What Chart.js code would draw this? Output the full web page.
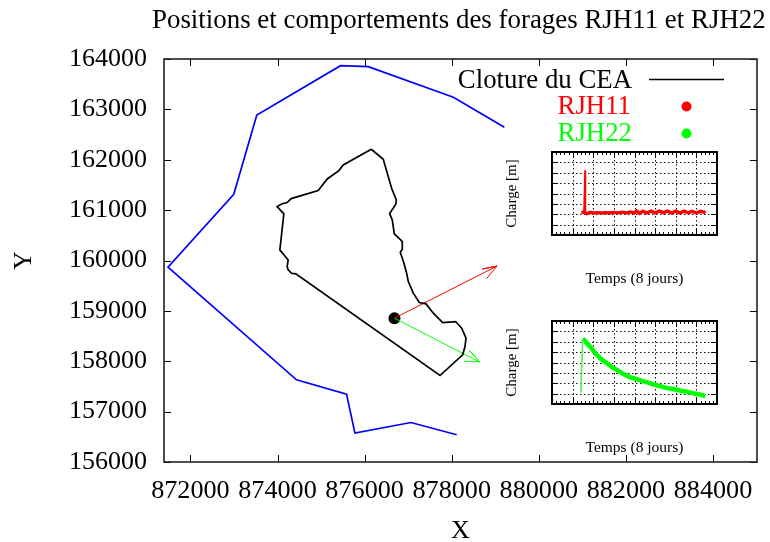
<!DOCTYPE html>
<html>
<head>
<meta charset="utf-8">
<title>Positions et comportements des forages</title>
<script src="https://cdn.jsdelivr.net/npm/chart.js@4/dist/chart.umd.min.js"></script>
<style>
    html, body { margin: 0; padding: 0; background: #fff; }
    #wrap { position: relative; width: 770px; height: 542px; overflow: hidden; }
    #wrap div { position: absolute; }
    #mainBox { left: 0; top: 0; width: 770px; height: 542px; }
    #inset1Box { left: 495px; top: 140px; width: 235px; height: 150px; }
    #inset2Box { left: 495px; top: 309px; width: 235px; height: 150px; }
</style>
</head>
<body>
<div id="wrap">
    <div id="mainBox"><canvas id="mainChart"></canvas></div>
    <div id="inset1Box"><canvas id="inset1Chart"></canvas></div>
    <div id="inset2Box"><canvas id="inset2Chart"></canvas></div>
</div>
<script>
// --- Data ---
const xTicks = [872000, 874000, 876000, 878000, 880000, 882000, 884000];
const yTicks = [156000, 157000, 158000, 159000, 160000, 161000, 162000, 163000, 164000];

const riverX = [879209, 878037, 876083, 875447, 873524, 872995, 871485, 874436, 875585, 875777, 877064, 878114];
const riverY = [162645, 163240, 163848, 163868, 162889, 161315, 159866, 157631, 157347, 156573, 156784, 156540];

const fenceX = [876152, 876428, 876466, 876620, 876727, 876719, 876574, 876635, 876681, 876827, 876865, 876865, 876819, 876903, 876965, 877003, 877118, 877256, 877409, 877578, 877792, 878091, 878229, 878328, 878305, 878252, 877731, 874420, 874321, 874244, 874221, 874244, 874259, 874053, 874145, 873991, 874091, 874221, 874313, 874934, 875141, 875409, 875508, 876152];
const fenceY = [162208, 162010, 161897, 161434, 161203, 161123, 160932, 160806, 160528, 160409, 160376, 160230, 160164, 159946, 159747, 159582, 159351, 159165, 159139, 158954, 158769, 158788, 158656, 158458, 158292, 158127, 157717, 159734, 159747, 159814, 159880, 160012, 160012, 160211, 160925, 161070, 161123, 161150, 161229, 161388, 161619, 161785, 161897, 162208];

const wellX = [876685];
const wellY = [158855];

// arrows: start, tip, barb, tip, barb
const redArrowX = [876685, 879040, 878700, 879040, 878800];
const redArrowY = [158855, 159890, 159830, 159890, 159640];
const greenArrowX = [876685, 878640, 878400, 878640, 878280];
const greenArrowY = [158855, 157985, 158220, 157985, 158000];

// insets: time in days, charge in grid divisions
const rjh11SpikeT = [1.55, 1.6, 1.62];
const rjh11SpikeQ = [2.15, 6.25, 2.15];
const rjh11T = [1.42, 1.55, 1.7, 1.85, 2.0, 2.2, 2.4, 2.6, 2.8, 3.0, 3.2, 3.4, 3.6, 3.8, 4.0, 4.1, 4.25, 4.4, 4.6, 4.8, 5.0, 5.2, 5.4, 5.6, 5.8, 6.0, 6.2, 6.4, 6.6, 6.8, 7.0, 7.2, 7.45];
const rjh11Q = [2.18, 2.2, 2.05, 2.18, 2.12, 2.16, 2.12, 2.16, 2.12, 2.18, 2.13, 2.2, 2.12, 2.22, 2.14, 2.32, 2.08, 2.3, 2.12, 2.3, 2.14, 2.3, 2.16, 2.3, 2.12, 2.3, 2.12, 2.3, 2.14, 2.28, 2.12, 2.28, 2.16];
const rjh22RiseT = [1.4, 1.43, 1.4, 1.49];
const rjh22RiseQ = [1.1, 1.55, 1.3, 6.25];
const rjh22T = [1.49, 1.65, 1.86, 2.02, 2.18, 2.4, 2.67, 2.9, 3.15, 3.4, 3.63, 3.9, 4.12, 4.35, 4.6, 4.85, 5.09, 5.33, 5.57, 5.8, 6.06, 6.3, 6.54, 6.8, 7.03, 7.25, 7.43];
const rjh22Q = [6.3, 5.95, 5.5, 5.1, 4.72, 4.3, 3.92, 3.55, 3.28, 2.96, 2.72, 2.5, 2.4, 2.22, 2.1, 1.95, 1.78, 1.68, 1.53, 1.47, 1.37, 1.25, 1.18, 1.05, 0.96, 0.88, 0.76];

const dayTicks = [0, 1, 2, 3, 4, 5, 6, 7, 8];
const dayMinorTicks = [0.2, 0.4, 0.6, 0.8];

const serif = '"Liberation Serif", "Times New Roman", serif';
const xy = (xs, ys) => xs.map((x, i) => ({ x: x, y: ys[i] }));

// gnuplot style inward ticks on all four sides + frame + dotted grid
const frameTicks = {
    id: 'frameTicks',
    beforeDatasetsDraw(chart, args, opts) {
        if (!opts.dotted) return;
        const { ctx, chartArea: a, scales: { x, y } } = chart;
        ctx.save();
        ctx.strokeStyle = '#111';
        ctx.lineWidth = 1;
        ctx.setLineDash([1.5, 2.5]);
        ctx.beginPath();
        x.ticks.forEach(t => {
            const px = Math.round(x.getPixelForValue(t.value)) + 0.5;
            ctx.moveTo(px, a.top); ctx.lineTo(px, a.bottom);
        });
        y.ticks.forEach(t => {
            const py = Math.round(y.getPixelForValue(t.value)) + 0.5;
            ctx.moveTo(a.left, py); ctx.lineTo(a.right, py);
        });
        ctx.stroke();
        ctx.restore();
    },
    afterDatasetsDraw(chart, args, opts) {
        const { ctx, chartArea: a, scales: { x, y } } = chart;
        ctx.save();
        ctx.strokeStyle = '#000';
        ctx.lineWidth = opts.tickWidth;
        ctx.beginPath();
        x.ticks.forEach(t => {
            const px = Math.round(x.getPixelForValue(t.value)) + 0.5;
            ctx.moveTo(px, a.bottom); ctx.lineTo(px, a.bottom - opts.tick);
            ctx.moveTo(px, a.top); ctx.lineTo(px, a.top + opts.tick);
            (opts.minor || []).forEach(m => {
                if (t.value + m > x.max) return;
                const mx = Math.round(x.getPixelForValue(t.value + m)) + 0.5;
                ctx.moveTo(mx, a.bottom); ctx.lineTo(mx, a.bottom - opts.minorTick);
                ctx.moveTo(mx, a.top); ctx.lineTo(mx, a.top + opts.minorTick);
            });
        });
        y.ticks.forEach(t => {
            const py = Math.round(y.getPixelForValue(t.value)) + 0.5;
            ctx.moveTo(a.left, py); ctx.lineTo(a.left + opts.tick, py);
            ctx.moveTo(a.right, py); ctx.lineTo(a.right - opts.tick, py);
        });
        ctx.stroke();
        ctx.lineWidth = opts.frameWidth;
        ctx.strokeStyle = opts.frameColor;
        ctx.strokeRect(a.left, a.top, a.right - a.left, a.bottom - a.top);
        ctx.restore();
    }
};

// title and the right-aligned gnuplot key
const keyAndTitle = {
    id: 'keyAndTitle',
    afterDraw(chart) {
        const ctx = chart.ctx;
        ctx.save();
        ctx.textBaseline = 'alphabetic';
        ctx.font = '26.9px ' + serif;
        ctx.fillStyle = '#000';
        ctx.textAlign = 'left';
        ctx.fillText('Positions et comportements des forages RJH11 et RJH22', 152, 28);
        ctx.textBaseline = 'middle';
        ctx.font = '26.8px ' + serif;
        ctx.textAlign = 'right';
        ctx.fillText('Cloture du CEA', 632, 81);
        ctx.fillStyle = '#ff0000';
        ctx.fillText('RJH11', 631, 107);
        ctx.fillStyle = '#00ff00';
        ctx.fillText('RJH22', 632, 134);
        ctx.strokeStyle = '#000';
        ctx.lineWidth = 1.7;
        ctx.beginPath();
        ctx.moveTo(649, 79.5);
        ctx.lineTo(724, 79.5);
        ctx.stroke();
        ctx.fillStyle = '#ff0000';
        ctx.beginPath(); ctx.arc(686.5, 106.5, 5, 0, Math.PI * 2); ctx.fill();
        ctx.fillStyle = '#00ff00';
        ctx.beginPath(); ctx.arc(686.5, 133.5, 5, 0, Math.PI * 2); ctx.fill();
        ctx.restore();
    }
};

const lineSet = (xs, ys, color, width) => ({
    data: xy(xs, ys),
    showLine: true,
    borderColor: color,
    borderWidth: width,
    pointRadius: 0,
    tension: 0,
    fill: false
});

new Chart(document.getElementById('mainChart'), {
    type: 'scatter',
    data: {
        datasets: [
            lineSet(riverX, riverY, '#0000ff', 1.7),
            lineSet(fenceX, fenceY, '#000000', 1.7),
            lineSet(redArrowX, redArrowY, '#ff0000', 1),
            lineSet(greenArrowX, greenArrowY, '#00ff00', 1),
            {
                data: xy(wellX, wellY),
                pointRadius: 6,
                pointBackgroundColor: '#000',
                pointBorderColor: '#000',
                pointBorderWidth: 0
            }
        ]
    },
    options: {
        responsive: true,
        maintainAspectRatio: false,
        animation: false,
        layout: { padding: { top: 59, right: 13, left: 0, bottom: 0 } },
        plugins: {
            legend: { display: false },
            tooltip: { enabled: false },
            frameTicks: { tick: 7, tickWidth: 1, frameWidth: 1.6, frameColor: '#222' }
        },
        scales: {
            x: {
                type: 'linear',
                min: 871393,
                max: 885010,
                afterBuildTicks: s => { s.ticks = xTicks.map(v => ({ value: v })); },
                afterFit: s => { s.height = 80; },
                grid: { display: false },
                border: { display: false },
                ticks: {
                    color: '#000',
                    font: { family: serif, size: 26.2 },
                    padding: 5,
                    maxRotation: 0,
                    callback: v => String(v)
                },
                title: { display: true, text: 'X', color: '#000', font: { family: serif, size: 26 }, padding: { top: 0, bottom: -5 } }
            },
            y: {
                type: 'linear',
                min: 156000,
                max: 164000,
                afterBuildTicks: s => { s.ticks = yTicks.map(v => ({ value: v })); },
                afterFit: s => { s.width = 164; },
                grid: { display: false },
                border: { display: false },
                ticks: {
                    color: '#000',
                    font: { family: serif, size: 26 },
                    padding: 9,
                    callback: v => String(v)
                },
                title: { display: true, text: 'Y', color: '#000', font: { family: serif, size: 26 }, padding: { top: 9, bottom: 0 } }
            }
        }
    },
    plugins: [frameTicks, keyAndTitle]
});

const makeInset = (id, thin, thick, color, thinColor, thickWidth) => new Chart(document.getElementById(id), {
    type: 'scatter',
    data: {
        datasets: [
            lineSet(thin.t, thin.q, thinColor, 1.6),
            lineSet(thick.t, thick.q, color, thickWidth)
        ]
    },
    options: {
        responsive: true,
        maintainAspectRatio: false,
        animation: false,
        layout: { padding: { top: 12, right: 13, left: 0, bottom: 0 } },
        plugins: {
            legend: { display: false },
            tooltip: { enabled: false },
            frameTicks: { dotted: true, tick: 6, tickWidth: 1, minor: dayMinorTicks, minorTick: 3, frameWidth: 2, frameColor: '#000' }
        },
        scales: {
            x: {
                type: 'linear',
                min: 0,
                max: 8,
                afterBuildTicks: s => { s.ticks = dayTicks.map(v => ({ value: v })); },
                afterFit: s => { s.height = 55; },
                grid: { display: false },
                border: { display: false },
                ticks: { display: false },
                title: { display: true, text: 'Temps (8 jours)', color: '#000', font: { family: serif, size: 15.5 }, padding: { top: 0, bottom: 2 } }
            },
            y: {
                type: 'linear',
                min: 0,
                max: 8,
                afterBuildTicks: s => { s.ticks = dayTicks.map(v => ({ value: v })); },
                afterFit: s => { s.width = 57; },
                grid: { display: false },
                border: { display: false },
                ticks: { display: false },
                title: { display: true, text: 'Charge [m]', color: '#000', font: { family: serif, size: 15 }, padding: { top: 8, bottom: 0 } }
            }
        }
    },
    plugins: [frameTicks]
});

makeInset('inset1Chart', { t: rjh11SpikeT, q: rjh11SpikeQ }, { t: rjh11T, q: rjh11Q }, '#ff0000', '#ff0000', 3.4);
makeInset('inset2Chart', { t: rjh22RiseT, q: rjh22RiseQ }, { t: rjh22T, q: rjh22Q }, '#00ff00', '#55ee55', 4.5);
</script>
</body>
</html>
